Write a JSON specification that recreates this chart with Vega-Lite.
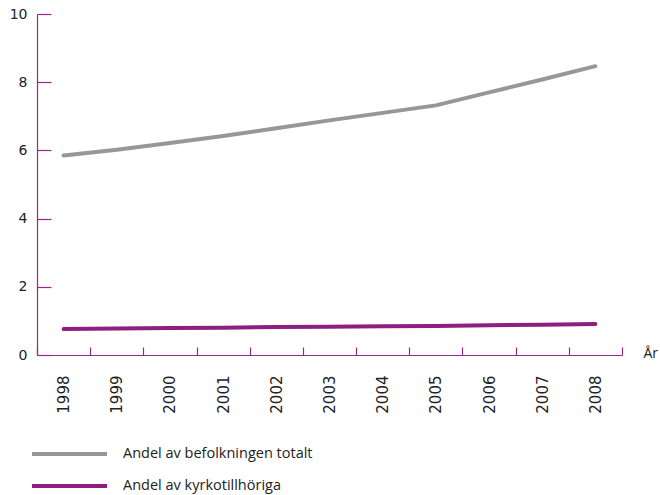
{
  "$schema": "https://vega.github.io/schema/vega-lite/v6.json",
  "width": 585,
  "height": 341,
  "autosize": {"type": "none"},
  "padding": {"left": 37, "top": 14, "right": 38, "bottom": 140},
  "background": "white",
  "config": {
    "view": {"stroke": null},
    "font": "Open Sans"
  },
  "data": {
    "values": [
      {"year": "1998", "series": "Andel av befolkningen totalt", "value": 5.85},
      {"year": "1999", "series": "Andel av befolkningen totalt", "value": 6.02},
      {"year": "2000", "series": "Andel av befolkningen totalt", "value": 6.22},
      {"year": "2001", "series": "Andel av befolkningen totalt", "value": 6.42},
      {"year": "2002", "series": "Andel av befolkningen totalt", "value": 6.65},
      {"year": "2003", "series": "Andel av befolkningen totalt", "value": 6.88},
      {"year": "2004", "series": "Andel av befolkningen totalt", "value": 7.1},
      {"year": "2005", "series": "Andel av befolkningen totalt", "value": 7.32},
      {"year": "2006", "series": "Andel av befolkningen totalt", "value": 7.7},
      {"year": "2007", "series": "Andel av befolkningen totalt", "value": 8.08},
      {"year": "2008", "series": "Andel av befolkningen totalt", "value": 8.47},
      {"year": "1998", "series": "Andel av kyrkotillhöriga", "value": 0.76},
      {"year": "1999", "series": "Andel av kyrkotillhöriga", "value": 0.78},
      {"year": "2000", "series": "Andel av kyrkotillhöriga", "value": 0.79},
      {"year": "2001", "series": "Andel av kyrkotillhöriga", "value": 0.8},
      {"year": "2002", "series": "Andel av kyrkotillhöriga", "value": 0.82},
      {"year": "2003", "series": "Andel av kyrkotillhöriga", "value": 0.83},
      {"year": "2004", "series": "Andel av kyrkotillhöriga", "value": 0.84},
      {"year": "2005", "series": "Andel av kyrkotillhöriga", "value": 0.85},
      {"year": "2006", "series": "Andel av kyrkotillhöriga", "value": 0.87},
      {"year": "2007", "series": "Andel av kyrkotillhöriga", "value": 0.89},
      {"year": "2008", "series": "Andel av kyrkotillhöriga", "value": 0.91}
    ]
  },
  "mark": {"type": "line", "strokeWidth": 4, "strokeCap": "round", "strokeJoin": "round"},
  "encoding": {
    "x": {
      "field": "year",
      "type": "ordinal",
      "scale": {"type": "band", "paddingInner": 0, "paddingOuter": 0},
      "axis": {
        "title": "År",
        "titleX": 606,
        "titleY": -2,
        "titleAlign": "left",
        "titleBaseline": "middle",
        "titleFontSize": 14,
        "titleFontWeight": "normal",
        "titleColor": "#222222",
        "titleFont": "Open Sans",
        "labelAngle": -90,
        "labelAlign": "right",
        "labelBaseline": "middle",
        "labelPadding": 28,
        "labelFont": "DejaVu Sans",
        "labelFontSize": 15,
        "labelColor": "#222222",
        "domainColor": "#93288e",
        "domainWidth": 1.2,
        "tickColor": "#93288e",
        "tickWidth": 1.2,
        "tickSize": -8,
        "tickBand": "extent",
        "grid": false
      }
    },
    "y": {
      "field": "value",
      "type": "quantitative",
      "scale": {"domain": [0, 10], "nice": false, "zero": true},
      "axis": {
        "title": null,
        "values": [0, 2, 4, 6, 8, 10],
        "labelFont": "DejaVu Sans",
        "labelFontSize": 14,
        "labelColor": "#222222",
        "labelPadding": 24,
        "domainColor": "#93288e",
        "domainWidth": 1.2,
        "tickColor": "#93288e",
        "tickWidth": 1.2,
        "tickSize": -14,
        "grid": false
      }
    },
    "color": {
      "field": "series",
      "type": "nominal",
      "scale": {
        "domain": ["Andel av befolkningen totalt", "Andel av kyrkotillhöriga"],
        "range": ["#979797", "#8c1f80"]
      },
      "legend": {
        "title": null,
        "orient": "none",
        "legendX": -7,
        "legendY": 432,
        "symbolType": "stroke",
        "symbolSize": 5625,
        "symbolStrokeWidth": 4,
        "labelFontSize": 14.5,
        "labelColor": "#222222",
        "labelLimit": 400,
        "labelOffset": 14,
        "clipHeight": 16,
        "rowPadding": 16
      }
    }
  }
}
